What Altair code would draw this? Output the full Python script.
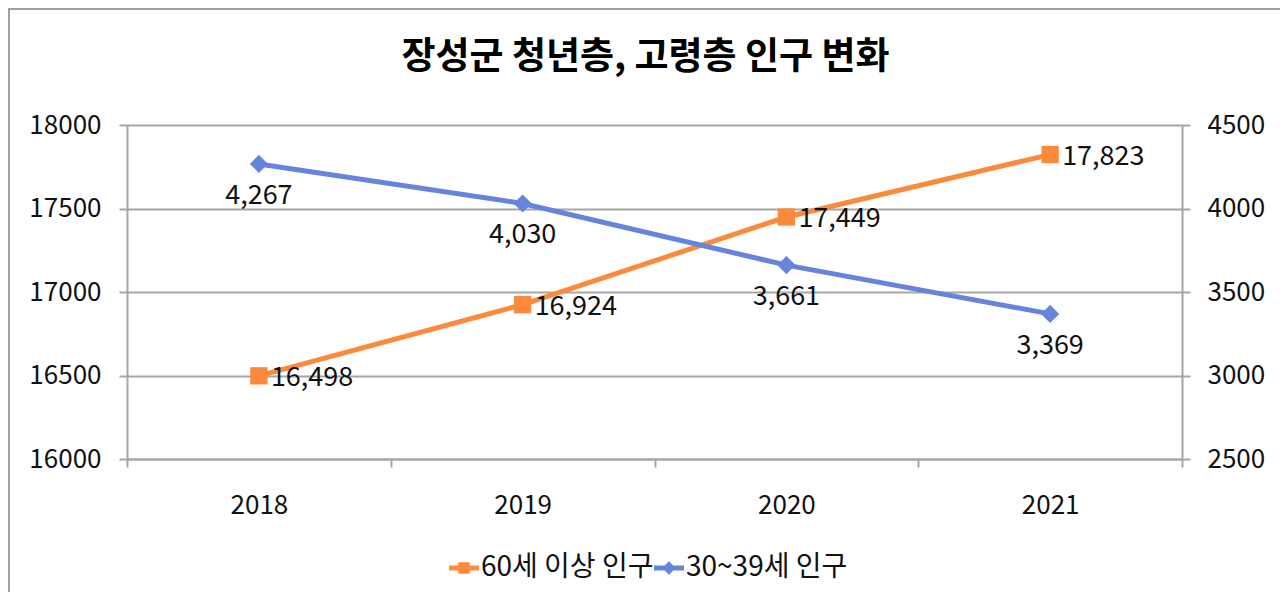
import altair as alt
import pandas as pd

# ---- data ----
years = ["2018", "2019", "2020", "2021"]
old_pop = [16498, 16924, 17449, 17823]      # 60세 이상 인구 (left axis)
young_pop = [4267, 4030, 3661, 3369]        # 30~39세 인구 (right axis)
series_names = ["60세 이상 인구", "30~39세 인구"]
left_ticks = [16000, 16500, 17000, 17500, 18000]
right_ticks = [2500, 3000, 3500, 4000, 4500]
title_text = "장성군 청년층, 고령층 인구 변화"

ORANGE = "#FB8A3C"
BLUE = "#6585DC"
GRID = "#A6A6A6"
FONT = "Noto Sans CJK KR"

df = pd.DataFrame({"year": years, "old": old_pop, "young": young_pop})
legend_df = pd.DataFrame({
    "series": series_names,
    "year": [years[0], years[0]],
    "old": [old_pop[0], old_pop[0]],
})

W, H = 1055, 334

x_enc = alt.X(
    "year:N",
    scale=alt.Scale(type="band", paddingInner=0, paddingOuter=0),
    axis=alt.Axis(
        title=None, labelAngle=0, tickBand="extent", tickSize=8,
        tickColor=GRID, tickWidth=2, domainColor=GRID, domainWidth=2,
        labelFontSize=26, labelPadding=25, labelColor="#111", labelFont=FONT,
        grid=False,
    ),
)

y_left = alt.Y(
    "old:Q",
    scale=alt.Scale(domain=[16000, 18000], nice=False, zero=False),
    axis=alt.Axis(
        title=None, values=left_ticks, format="d", grid=True, gridColor=GRID, gridWidth=2,
        tickSize=8, tickColor=GRID, tickWidth=2, domainColor=GRID, domainWidth=2,
        labelFontSize=26, labelPadding=18, labelColor="#111", labelFont=FONT,
    ),
)

y_right = alt.Y(
    "young:Q",
    scale=alt.Scale(domain=[2500, 4500], nice=False, zero=False),
    axis=alt.Axis(
        title=None, orient="right", values=right_ticks, format="d", grid=False,
        tickSize=8, tickColor=GRID, tickWidth=2, domainColor=GRID, domainWidth=2,
        labelFontSize=26, labelPadding=17, labelColor="#111", labelFont=FONT,
    ),
)

base = alt.Chart(df)

# frame around the whole chart
frame = alt.Chart(df).mark_rect(
    fillOpacity=0, stroke="#A0A0A0", strokeWidth=2, clip=False
).encode(
    x=alt.value(-118), x2=alt.value(1300), y=alt.value(-116), y2=alt.value(700)
)

old_line = base.mark_line(color=ORANGE, strokeWidth=5).encode(x=x_enc, y=y_left)
old_pts = base.mark_point(shape="square", filled=True, size=300, color=ORANGE, opacity=1).encode(x=x_enc, y=y_left)
old_lbl = base.mark_text(align="left", baseline="middle", dx=12, dy=2, fontSize=27, font=FONT, color="#111").encode(
    x=x_enc, y=y_left, text=alt.Text("old:Q", format=",")
)

legend_props = dict(
    orient="none", legendX=322, legendY=428, direction="horizontal", title=None,
    labelFontSize=28, labelFont=FONT, labelColor="#111", symbolSize=900,
    symbolOpacity=1, symbolStrokeWidth=0, columnPadding=0, labelOffset=2,
    labelLimit=400,
)
shape_sq = "M-1,-0.17H1V0.17H-1Z M-0.38,-0.38H0.38V0.38H-0.38Z"
shape_dia = "M-1,-0.17H1V0.17H-1Z M0,-0.45L0.45,0L0,0.45L-0.45,0Z"
legend_layer = alt.Chart(legend_df).mark_point(filled=True, opacity=0).encode(
    x=x_enc,
    y=y_left,
    color=alt.Color("series:N", scale=alt.Scale(domain=series_names, range=[ORANGE, BLUE]),
                    legend=alt.Legend(**legend_props)),
    shape=alt.Shape("series:N", scale=alt.Scale(domain=series_names, range=[shape_sq, shape_dia]),
                    legend=alt.Legend(**legend_props)),
)

left = alt.layer(frame, old_line, old_pts, old_lbl, legend_layer)

young_line = base.mark_line(color=BLUE, strokeWidth=5).encode(x=x_enc, y=y_right)
young_pts = base.mark_point(shape="diamond", filled=True, size=330, color=BLUE, opacity=1).encode(x=x_enc, y=y_right)
young_lbl = base.mark_text(align="center", baseline="middle", dy=32, fontSize=27, font=FONT, color="#111").encode(
    x=x_enc, y=y_right, text=alt.Text("young:Q", format=",")
)
right = alt.layer(young_line, young_pts, young_lbl)

chart = alt.layer(left, right).resolve_scale(y="independent").properties(
    width=W, height=H,
    title=alt.Title(title_text, fontSize=37, fontWeight="bold", font=FONT, color="#000",
                    anchor="middle", frame="group", offset=-69, dx=-9),
    autosize=alt.AutoSizeParams(type="none"),
    padding={"left": 119, "top": 117, "right": 98, "bottom": 133},
).configure_view(stroke=None).configure(font=FONT, background="white")

chart.save("out.html", embed_options={"renderer": "svg", "actions": False})
